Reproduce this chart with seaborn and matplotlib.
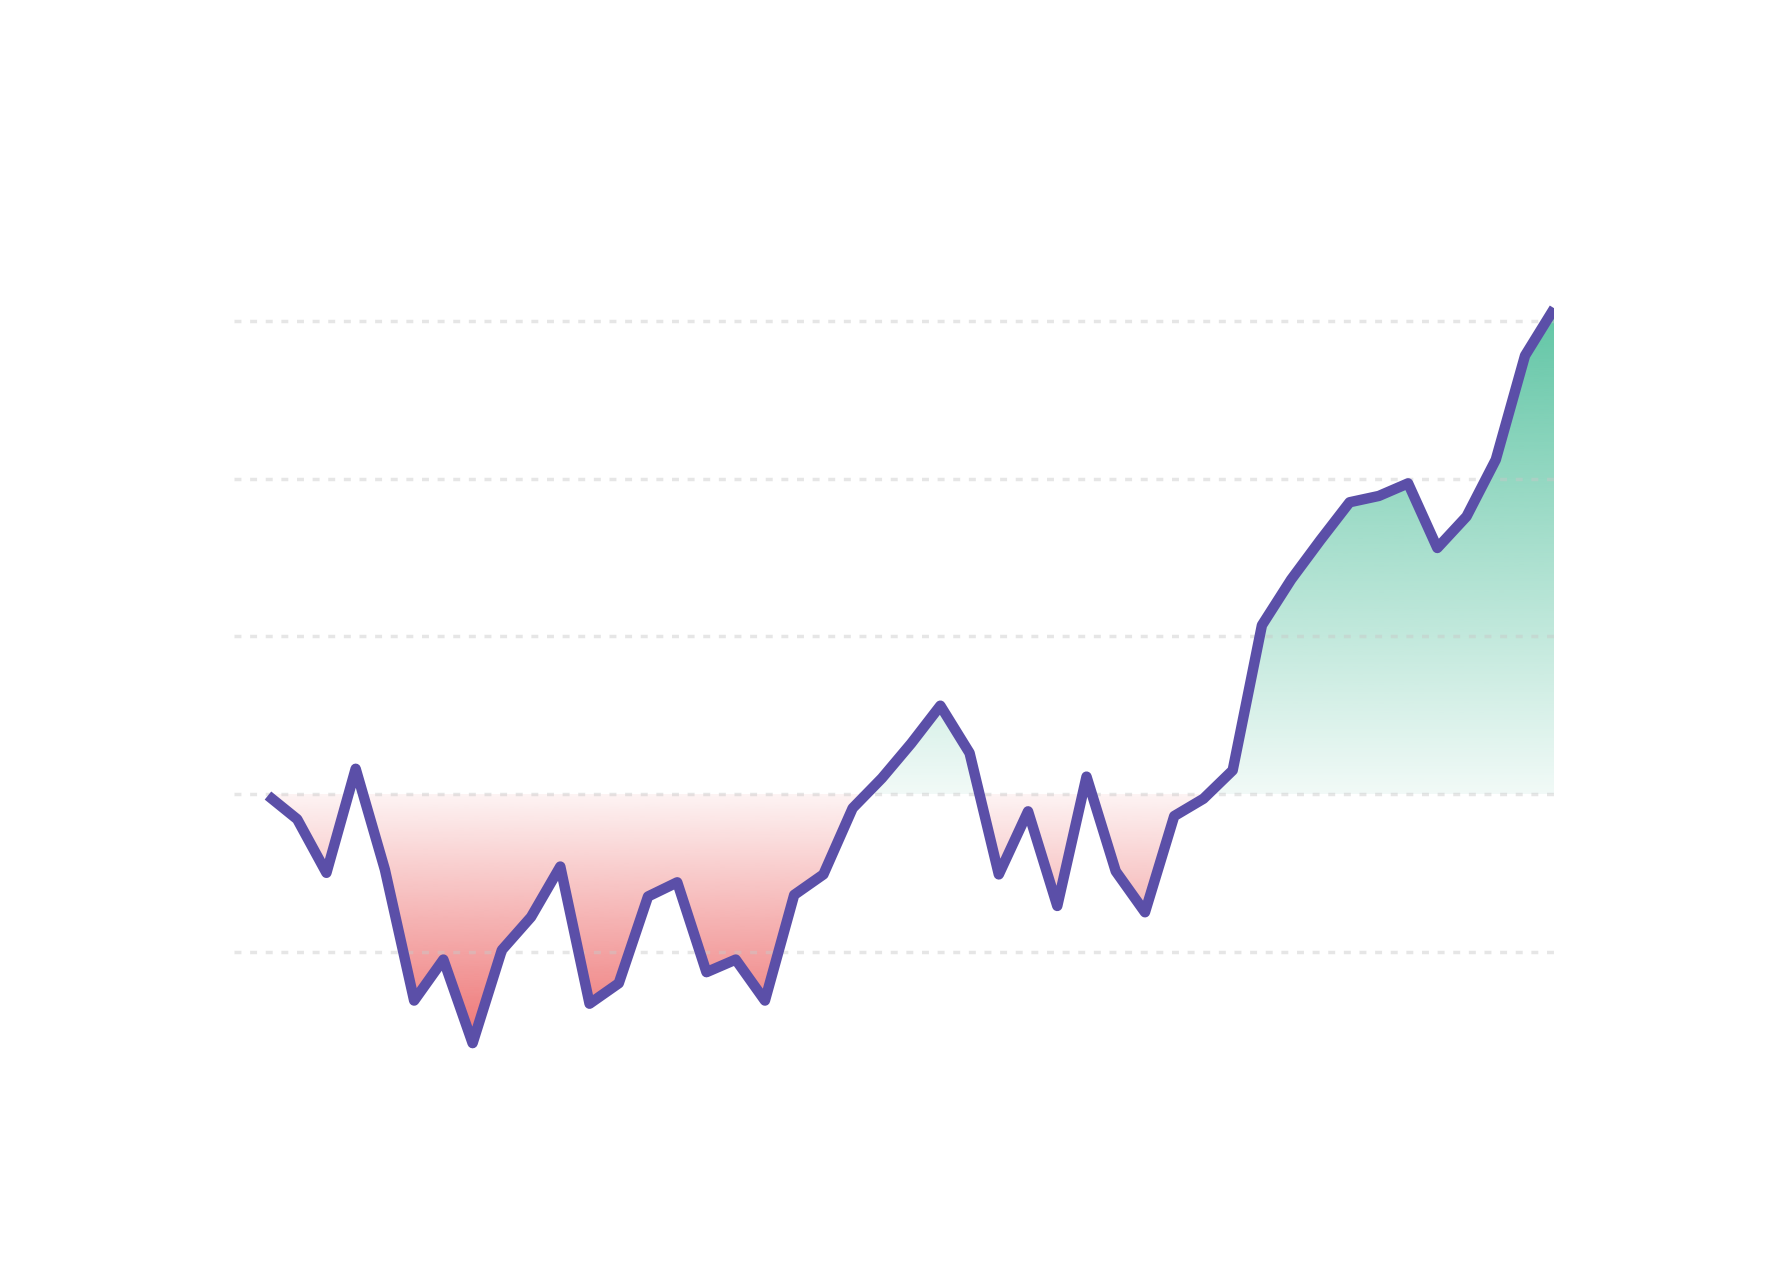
import numpy as np
import seaborn as sns
from matplotlib import pyplot as plt
from matplotlib.colors import to_rgb
from matplotlib.path import Path

# series (arbitrary units, 0 = baseline)
steps = list(range(45))
values = [-0.1, -1.6, -5.0, 1.6, -4.8, -13.1, -10.5, -15.8, -9.9, -7.8,
          -4.6, -13.3, -12.0, -6.5, -5.6, -11.3, -10.5, -13.1, -6.4, -5.1,
          -0.9, 1.0, 3.2, 5.6, 2.6, -5.1, -1.1, -7.1, 1.1, -4.9,
          -7.5, -1.4, -0.3, 1.5, 10.7, 13.6, 16.1, 18.5, 18.9, 19.7,
          15.6, 17.6, 21.2, 27.8, 30.8]
grid_levels = [-10, 0, 10, 20, 30]
baseline = 0

LINE_COLOR = "#5b4fa8"
UP_COLOR = "#4fbf9b"
DOWN_COLOR = "#ee7474"


def gradient_fill(ax, x, y, mask, color, y_lo, y_hi, alpha_lo, alpha_hi):
    # shape of the area, only used as a clip path
    poly = ax.fill_between(x, y, baseline, where=mask, interpolate=True,
                           facecolor="none", edgecolor="none", linewidth=0)
    clip = Path.make_compound_path(*poly.get_paths())

    img = np.zeros((256, 1, 4))
    img[:, :, :3] = to_rgb(color)
    img[:, 0, 3] = np.linspace(alpha_lo, alpha_hi, 256)
    im = ax.imshow(img, aspect="auto", origin="lower", interpolation="bilinear",
                   extent=[x.min(), x.max(), y_lo, y_hi], zorder=1)
    im.set_clip_path(clip, transform=ax.transData)


def main():
    sns.set_style("white")
    x = np.array(steps, dtype=float)
    y = np.array(values)

    fig = plt.figure(figsize=(17.66, 12.68), dpi=100)
    ax = fig.add_axes([0.1327, 0.1251, 0.7474, 0.684])

    gradient_fill(ax, x, y, y >= baseline, UP_COLOR, baseline, y.max(), 0.08, 0.9)
    gradient_fill(ax, x, y, y <= baseline, DOWN_COLOR, y.min(), baseline, 1.0, 0.08)

    # dotted guides, semi-transparent so they tint the fill a little
    for level in grid_levels:
        ax.axhline(level, color="#c8c8c8", alpha=0.45, linewidth=2.5,
                   linestyle=(0, (2.0, 2.5)), zorder=2)

    sns.lineplot(x=x, y=y, color=LINE_COLOR, ax=ax, zorder=3)
    line = ax.lines[-1]
    line.set_linewidth(7.5)
    line.set_solid_joinstyle("round")
    line.set_solid_capstyle("butt")

    ax.set_xlim(-1.15, 44)
    ax.set_ylim(-20, 35)
    ax.set_axis_off()

    fig.savefig("out.png", dpi=100)


if __name__ == "__main__":
    main()
